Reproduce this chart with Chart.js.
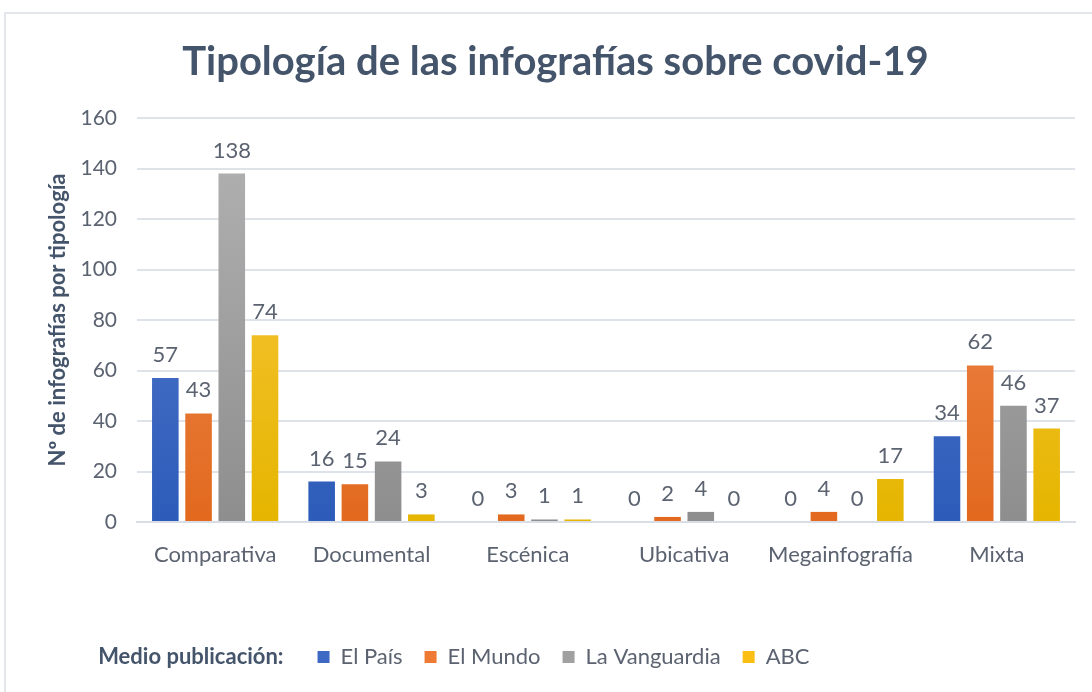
<!DOCTYPE html>
<html>
<head>
<meta charset="utf-8">
<script src="https://cdn.jsdelivr.net/npm/chart.js@4"></script>
<style>
  html, body { margin: 0; padding: 0; background: #fff; }
  #wrap { position: relative; width: 1092px; height: 692px; overflow: hidden; }
  #frame { position: absolute; left: 4px; top: 12px; width: 1200px; height: 800px; border-left: 2px solid #E3E6EA; border-top: 2px solid #E3E6EA; }
  canvas { position: absolute; left: 0; top: 0; }
</style>
</head>
<body>
<div id="wrap">
  <div id="frame"></div>
  <canvas id="chart" width="1092" height="692"></canvas>
</div>
<script>
// --- data ---
const categories = ['Comparativa', 'Documental', 'Escénica', 'Ubicativa', 'Megainfografía', 'Mixta'];
const elPais = [57, 16, 0, 0, 0, 34];
const elMundo = [43, 15, 3, 2, 4, 62];
const laVanguardia = [138, 24, 1, 4, 0, 46];
const abc = [74, 3, 1, 0, 17, 37];
const yTicks = [0, 20, 40, 60, 80, 100, 120, 140, 160];

const FONT = 'Lato, "Open Sans", sans-serif';
const TEXT = '#5B6270';
const DARK = '#44546A';
const LEGEND_SHIFT = 26; // legend sits a bit right of centre in the original
const TITLE_SHIFT = 18;

// gradient fill per serie (top -> bottom)
function grad(top, bottom) {
  return function(ctx) {
    const area = ctx.chart.chartArea;
    if (!area) return bottom;
    const g = ctx.chart.ctx.createLinearGradient(0, area.top, 0, area.bottom);
    g.addColorStop(0, top);
    g.addColorStop(1, bottom);
    return g;
  };
}

// value labels above each bar
const valueLabels = {
  id: 'valueLabels',
  afterDatasetsDraw(chart) {
    const ctx = chart.ctx;
    ctx.save();
    ctx.font = '22px ' + FONT;
    ctx.fillStyle = TEXT;
    ctx.textAlign = 'center';
    ctx.textBaseline = 'alphabetic';
    chart.data.datasets.forEach((ds, i) => {
      chart.getDatasetMeta(i).data.forEach((bar, j) => {
        ctx.fillText(ds.data[j], bar.x, bar.y - 16);
      });
    });
    ctx.restore();
  }
};

// move legend/title a bit + "Medio publicación:" prefix
const legendPrefix = {
  id: 'legendPrefix',
  afterLayout(chart) {
    const lg = chart.legend;
    lg.left += LEGEND_SHIFT;
    lg.right += LEGEND_SHIFT;
    (lg.legendHitBoxes || []).forEach(b => b.left += LEGEND_SHIFT);
    const tt = chart.titleBlock;
    if (tt) { tt.left += TITLE_SHIFT; tt.right += TITLE_SHIFT; }
  },
  afterDraw(chart) {
    const boxes = chart.legend.legendHitBoxes;
    if (!boxes || !boxes.length) return;
    const ctx = chart.ctx;
    ctx.save();
    ctx.font = 'bold 22px ' + FONT;
    ctx.fillStyle = DARK;
    ctx.textAlign = 'right';
    ctx.textBaseline = 'middle';
    ctx.fillText('Medio publicación:', boxes[0].left - 34, boxes[0].top + boxes[0].height / 2);
    ctx.restore();
  }
};

const commonBar = { barPercentage: 0.8, categoryPercentage: 0.85, borderWidth: 0 };

new Chart(document.getElementById('chart'), {
  type: 'bar',
  data: {
    labels: categories,
    datasets: [
      { label: 'El País', data: elPais, backgroundColor: grad('#5F82D0', '#2C5BB9'), ...commonBar },
      { label: 'El Mundo', data: elMundo, backgroundColor: grad('#F0925C', '#E2691E'), ...commonBar },
      { label: 'La Vanguardia', data: laVanguardia, backgroundColor: grad('#B3B3B3', '#8E8E8E'), ...commonBar },
      { label: 'ABC', data: abc, backgroundColor: grad('#FFC94A', '#E5B500'), ...commonBar }
    ]
  },
  options: {
    responsive: false,
    animation: false,
    layout: { padding: { left: 0, right: 17, top: 0, bottom: 14 } },
    plugins: {
      title: {
        display: true,
        text: 'Tipología de las infografías sobre covid-19',
        color: DARK,
        font: { family: FONT, size: 40, weight: 'bold' },
        padding: { top: 38, bottom: 32 }
      },
      legend: {
        position: 'bottom',
        labels: {
          color: TEXT,
          font: { family: FONT, size: 22 },
          boxWidth: 12,
          boxHeight: 12,
          padding: 22,
          generateLabels(chart) {
            const cols = ['#3D68C4', '#EE7A33', '#A0A0A0', '#FBBF14'];
            return chart.data.datasets.map((ds, i) => ({
              text: ds.label, fillStyle: cols[i], strokeStyle: cols[i], lineWidth: 0,
              fontColor: TEXT, datasetIndex: i
            }));
          }
        }
      },
      tooltip: { enabled: false }
    },
    scales: {
      x: {
        grid: { display: false },
        border: { color: '#D9DEE6', width: 2 },
        ticks: { color: TEXT, font: { family: FONT, size: 22 }, padding: 12 },
        afterFit(s) { s.height = 102; }
      },
      y: {
        min: 0,
        max: 160,
        afterBuildTicks(s) { s.ticks = yTicks.map(v => ({ value: v })); },
        grid: { color: '#DEE3EA', lineWidth: 2, drawTicks: false },
        border: { display: false },
        ticks: { color: TEXT, font: { family: FONT, size: 21 }, padding: 20 },
        title: {
          display: true,
          text: 'Nº de infografías por tipología',
          color: DARK,
          font: { family: FONT, size: 22, weight: 'bold' },
          padding: { top: 45, bottom: 0 }
        },
        afterFit(s) { s.width = 137; }
      }
    }
  },
  plugins: [valueLabels, legendPrefix]
});
</script>
</body>
</html>
